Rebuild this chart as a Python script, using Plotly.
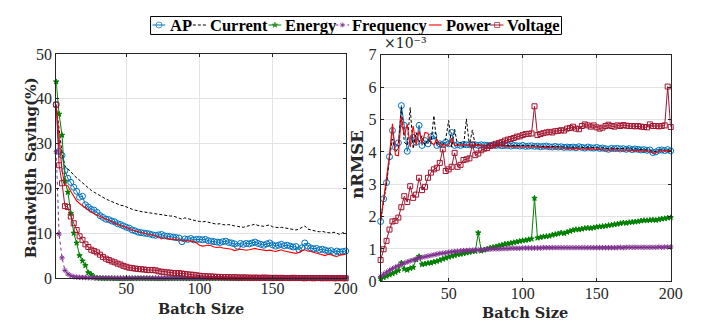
import plotly.graph_objects as go

# ---------------- data ----------------
BATCH_LEFT = list(range(2, 201, 2))    # 100 batch sizes (left panel)
BATCH_RIGHT = list(range(4, 201, 2))   # 99 batch sizes (right panel)
SERIES = ["AP", "Current", "Energy", "Frequency", "Power", "Voltage"]

# Bandwidth saving (%)
SAVE_AP = [
    38.7, 28.3, 27.4, 24.0, 22.3, 21.4, 20.3, 19.4, 18.1, 18.3,
    16.4, 15.9, 15.4, 15.2, 14.7, 14.0, 13.6, 13.2, 13.1, 12.8,
    12.6, 12.2, 12.0, 11.7, 11.4, 11.2, 10.8, 10.6, 10.3, 10.2,
    10.1, 10.0, 9.9, 9.7, 9.6, 9.7, 9.8, 9.5, 9.4, 9.3,
    9.2, 9.1, 9.0, 8.2, 8.8, 8.7, 8.9, 8.6, 8.7, 8.7,
    8.6, 8.7, 8.4, 8.3, 8.2, 8.1, 8.0, 8.2, 8.3, 8.0,
    7.9, 7.7, 7.2, 7.8, 7.6, 7.8, 7.7, 7.9, 8.1, 7.8,
    7.6, 7.4, 7.7, 7.9, 7.5, 7.2, 7.4, 7.6, 7.3, 7.4,
    7.2, 7.0, 7.1, 6.4, 6.8, 7.9, 7.2, 6.8, 6.6, 6.7,
    6.4, 6.5, 6.3, 6.1, 6.2, 5.8, 6.1, 5.9, 6.0, 6.1,
]
SAVE_CURRENT = [
    38.5, 33.0, 28.0, 25.0, 24.5, 23.8, 23.0, 22.4, 21.8, 21.2,
    20.6, 20.0, 19.6, 19.2, 18.8, 18.5, 18.1, 17.7, 17.4, 17.1,
    16.9, 16.6, 16.3, 16.2, 15.9, 15.6, 15.4, 15.2, 15.0, 14.9,
    14.8, 14.7, 14.6, 14.5, 14.3, 14.2, 14.1, 14.0, 14.0, 13.9,
    13.9, 13.7, 13.5, 13.2, 13.5, 13.3, 13.2, 13.0, 12.8, 12.7,
    12.6, 12.7, 12.5, 12.3, 12.2, 12.1, 12.2, 12.0, 11.9, 12.0,
    11.8, 11.7, 11.6, 11.5, 11.4, 11.6, 11.7, 11.9, 12.1, 11.8,
    11.7, 11.6, 11.8, 11.9, 11.5, 11.4, 11.3, 11.4, 11.3, 11.2,
    11.1, 11.0, 10.8, 11.0, 11.3, 11.7, 11.0, 10.8, 10.7, 10.5,
    10.4, 10.5, 10.3, 10.2, 10.1, 10.3, 10.0, 9.8, 10.2, 10.0,
]
SAVE_ENERGY = [
    43.8, 36.6, 31.9, 21.7, 19.2, 14.5, 10.1, 7.9, 5.1, 3.9,
    2.9, 1.3, 0.9, 0.3, 0.1, 0.05, 0.0, 0.0, 0.0, 0.0,
    0.0, 0.0, 0.0, 0.0, 0.0, 0.0, 0.0, 0.0, 0.0, 0.0,
    0.0, 0.0, 0.0, 0.0, 0.0, 0.0, 0.0, 0.0, 0.0, 0.0,
    0.0, 0.0, 0.0, 0.0, 0.0, 0.0, 0.0, 0.0, 0.0, 0.0,
    0.0, 0.0, 0.0, 0.0, 0.0, 0.0, 0.0, 0.0, 0.0, 0.0,
    0.0, 0.0, 0.0, 0.0, 0.0, 0.0, 0.0, 0.0, 0.0, 0.0,
    0.0, 0.0, 0.0, 0.0, 0.0, 0.0, 0.0, 0.0, 0.0, 0.0,
    0.0, 0.0, 0.0, 0.0, 0.0, 0.0, 0.0, 0.0, 0.0, 0.0,
    0.0, 0.0, 0.0, 0.0, 0.0, 0.0, 0.0, 0.0, 0.0, 0.0,
]
SAVE_FREQUENCY = [
    28.2, 9.9, 4.6, 1.8, 1.0, 0.6, 0.4, 0.3, 0.25, 0.2,
    0.2, 0.15, 0.15, 0.1, 0.1, 0.1, 0.1, 0.1, 0.1, 0.1,
    0.05, 0.05, 0.05, 0.05, 0.05, 0.05, 0.05, 0.05, 0.05, 0.05,
    0.05, 0.05, 0.05, 0.05, 0.05, 0.05, 0.05, 0.05, 0.05, 0.05,
    0.05, 0.05, 0.05, 0.05, 0.05, 0.05, 0.05, 0.05, 0.05, 0.05,
    0.05, 0.05, 0.05, 0.05, 0.05, 0.05, 0.05, 0.05, 0.05, 0.05,
    0.05, 0.05, 0.05, 0.05, 0.05, 0.05, 0.05, 0.05, 0.05, 0.05,
    0.05, 0.05, 0.05, 0.05, 0.05, 0.05, 0.05, 0.05, 0.05, 0.05,
    0.05, 0.05, 0.05, 0.05, 0.05, 0.05, 0.05, 0.05, 0.05, 0.05,
    0.05, 0.05, 0.05, 0.05, 0.05, 0.05, 0.05, 0.05, 0.05, 0.05,
]
SAVE_POWER = [
    38.7, 30.5, 24.0, 20.8, 20.6, 19.4, 18.2, 17.3, 16.7, 16.2,
    15.7, 15.1, 14.8, 14.4, 14.1, 13.8, 13.5, 13.2, 12.9, 12.5,
    12.2, 12.0, 11.8, 11.6, 11.3, 11.1, 10.8, 10.6, 10.4, 10.3,
    10.1, 9.9, 9.8, 9.6, 9.5, 9.3, 8.8, 9.1, 8.9, 8.7,
    8.7, 8.6, 8.5, 8.5, 8.5, 8.4, 8.3, 8.2, 7.9, 7.4,
    7.2, 7.3, 7.4, 7.3, 7.0, 6.9, 7.0, 6.8, 6.7, 6.6,
    6.5, 6.2, 6.4, 6.5, 6.4, 6.3, 6.4, 6.6, 6.7, 6.5,
    6.4, 6.3, 6.2, 6.3, 6.1, 6.0, 6.2, 6.4, 6.1, 6.0,
    5.9, 5.8, 5.6, 5.8, 6.2, 6.4, 6.1, 6.0, 5.8, 5.6,
    5.5, 5.3, 5.1, 5.4, 5.3, 5.0, 4.9, 5.2, 5.3, 5.4,
]
SAVE_VOLTAGE = [
    38.7, 25.2, 21.2, 16.1, 15.9, 13.8, 12.3, 10.8, 9.4, 8.6,
    7.6, 7.0, 6.4, 6.1, 5.8, 5.3, 4.8, 4.4, 4.1, 3.8,
    3.6, 3.3, 3.1, 2.8, 2.6, 2.4, 2.3, 2.2, 2.1, 2.05,
    2.0, 1.9, 1.85, 1.9, 1.8, 1.6, 1.5, 1.4, 1.35, 1.3,
    1.2, 1.15, 1.2, 1.1, 1.0, 0.9, 0.85, 0.8, 0.7, 0.6,
    0.55, 0.5, 0.45, 0.45, 0.4, 0.35, 0.35, 0.3, 0.3, 0.3,
    0.25, 0.3, 0.25, 0.2, 0.25, 0.2, 0.2, 0.15, 0.2, 0.15,
    0.15, 0.2, 0.15, 0.15, 0.1, 0.15, 0.1, 0.15, 0.1, 0.1,
    0.1, 0.15, 0.1, 0.1, 0.1, 0.05, 0.1, 0.1, 0.05, 0.1,
    0.1, 0.05, 0.1, 0.05, 0.1, 0.05, 0.05, 0.1, 0.05, 0.05,
]

# nRMSE, in units of 1e-3
NRMSE_AP = [
    1.85, 2.55, 3.05, 3.85, 4.66, 4.14, 4.28, 5.43, 4.82, 4.02,
    4.35, 4.45, 4.3, 4.82, 4.2, 4.35, 4.25, 4.47, 4.5, 4.2,
    4.25, 4.22, 4.3, 4.25, 4.6, 4.2, 4.22, 4.2, 4.23, 4.22,
    4.22, 4.21, 4.22, 4.2, 4.22, 4.21, 4.2, 4.2, 4.22, 4.2,
    4.21, 4.19, 4.2, 4.2, 4.18, 4.2, 4.19, 4.18, 4.2, 4.17,
    4.18, 4.19, 4.17, 4.18, 4.16, 4.17, 4.18, 4.16, 4.15, 4.17,
    4.15, 4.16, 4.14, 4.15, 4.14, 4.15, 4.13, 4.16, 4.14, 4.12,
    4.15, 4.13, 4.12, 4.14, 4.11, 4.12, 4.1, 4.08, 4.11, 4.1,
    4.11, 4.09, 4.1, 4.08, 4.1, 4.07, 4.09, 4.08, 4.06, 4.07,
    4.05, 4.06, 3.98, 4.0, 4.05, 4.06, 4.04, 4.07, 4.03,
]
NRMSE_CURRENT = [
    1.9, 2.5, 3.0, 3.8, 4.4, 4.0, 4.1, 5.37, 4.3, 4.2,
    5.37, 4.1, 4.6, 4.3, 4.5, 4.2, 4.4, 4.25, 5.12, 4.25,
    4.3, 4.2, 4.4, 4.97, 4.15, 4.7, 4.2, 4.3, 4.15, 5.02,
    4.2, 4.68, 4.2, 4.22, 4.21, 4.2, 4.22, 4.21, 4.2, 4.22,
    4.21, 4.2, 4.21, 4.2, 4.19, 4.2, 4.2, 4.18, 4.19, 4.18,
    4.19, 4.18, 4.18, 4.19, 4.17, 4.17, 4.18, 4.17, 4.16, 4.17,
    4.16, 4.16, 4.15, 4.16, 4.15, 4.15, 4.14, 4.16, 4.15, 4.13,
    4.15, 4.14, 4.13, 4.14, 4.12, 4.13, 4.11, 4.1, 4.12, 4.11,
    4.12, 4.1, 4.11, 4.1, 4.15, 4.08, 4.1, 4.09, 4.07, 4.08,
    4.06, 4.07, 4.0, 4.02, 4.06, 4.07, 4.05, 4.08, 4.04,
]
NRMSE_ENERGY = [
    0.08, 0.12, 0.16, 0.2, 0.24, 0.28, 0.33, 0.57, 0.38, 0.35,
    0.4, 0.43, 0.67, 0.77, 0.52, 0.54, 0.56, 0.57, 0.6, 0.62,
    0.65, 0.69, 0.72, 0.75, 0.78, 0.8, 0.83, 0.84, 0.86, 0.88,
    0.9, 0.92, 0.93, 1.5, 0.94, 0.97, 1.0, 1.03, 1.05, 1.07,
    1.1, 1.12, 1.15, 1.16, 1.18, 1.2, 1.22, 1.24, 1.26, 1.27,
    1.29, 1.31, 2.57, 1.34, 1.36, 1.38, 1.39, 1.4, 1.43, 1.45,
    1.47, 1.5, 1.48, 1.52, 1.55, 1.58, 1.6, 1.6, 1.62, 1.64,
    1.65, 1.64, 1.66, 1.68, 1.69, 1.7, 1.71, 1.73, 1.74, 1.76,
    1.77, 1.79, 1.81, 1.8, 1.82, 1.83, 1.84, 1.85, 1.87, 1.88,
    1.88, 1.89, 1.9, 1.89, 1.91, 1.93, 1.94, 1.96, 1.97,
]
NRMSE_FREQUENCY = [
    0.15, 0.22, 0.28, 0.34, 0.39, 0.44, 0.48, 0.52, 0.56, 0.6,
    0.63, 0.66, 0.69, 0.72, 0.74, 0.76, 0.78, 0.8, 0.82, 0.84,
    0.86, 0.87, 0.88, 0.9, 0.91, 0.92, 0.93, 0.94, 0.95, 0.95,
    0.96, 0.96, 0.97, 0.97, 0.98, 0.98, 0.99, 0.99, 1.0, 1.0,
    1.0, 1.01, 1.01, 1.01, 1.02, 1.02, 1.02, 1.02, 1.03, 1.03,
    1.03, 1.03, 1.03, 1.03, 1.03, 1.04, 1.04, 1.04, 1.04, 1.04,
    1.04, 1.04, 1.04, 1.04, 1.04, 1.04, 1.04, 1.04, 1.04, 1.04,
    1.04, 1.04, 1.04, 1.04, 1.04, 1.04, 1.04, 1.04, 1.04, 1.04,
    1.04, 1.05, 1.04, 1.05, 1.05, 1.05, 1.05, 1.05, 1.05, 1.05,
    1.05, 1.05, 1.05, 1.05, 1.06, 1.05, 1.06, 1.06, 1.06,
]
NRMSE_POWER = [
    1.85, 2.6, 3.2, 3.9, 4.87, 3.9, 3.88, 5.1, 4.5, 4.85,
    4.15, 4.8, 4.2, 4.65, 4.25, 4.6, 4.58, 4.3, 4.22, 4.4,
    4.2, 4.22, 4.2, 4.2, 4.42, 4.2, 4.2, 4.22, 4.21, 4.2,
    4.2, 4.2, 4.21, 4.2, 4.2, 4.2, 4.19, 4.2, 4.2, 4.18,
    4.19, 4.18, 4.18, 4.17, 4.18, 4.17, 4.16, 4.17, 4.16, 4.15,
    4.16, 4.15, 4.15, 4.14, 4.14, 4.13, 4.14, 4.13, 4.12, 4.13,
    4.12, 4.12, 4.11, 4.12, 4.11, 4.1, 4.11, 4.1, 4.1, 4.09,
    4.1, 4.09, 4.08, 4.09, 4.08, 4.07, 4.06, 4.05, 4.07, 4.06,
    4.06, 4.05, 4.06, 4.05, 4.04, 4.05, 4.04, 4.04, 4.03, 4.04,
    4.03, 4.02, 3.95, 3.97, 4.02, 4.03, 4.02, 4.04, 4.03,
]
NRMSE_VOLTAGE = [
    0.66, 0.99, 1.25, 1.6, 1.85, 1.87, 1.97, 2.29, 2.63, 2.45,
    2.94, 2.58, 2.68, 3.2, 2.82, 2.92, 3.2, 3.36, 3.46, 3.51,
    3.66, 4.08, 3.41, 3.46, 3.54, 3.97, 3.54, 3.6, 3.75, 3.77,
    3.8, 4.23, 3.9, 3.95, 4.05, 4.1, 4.12, 4.18, 4.2, 4.25,
    4.28, 4.3, 4.35, 4.38, 4.4, 4.43, 4.47, 4.48, 4.52, 4.55,
    4.56, 4.57, 5.41, 4.52, 4.55, 4.58, 4.6, 4.62, 4.6, 4.64,
    4.65, 4.67, 4.66, 4.72, 4.74, 4.78, 4.72, 4.7, 4.8, 4.85,
    4.82, 4.78, 4.82, 4.76, 4.72, 4.75, 4.8, 4.84, 4.8, 4.78,
    4.82, 4.8, 4.83, 4.81, 4.8, 4.8, 4.79, 4.8, 4.78, 4.77,
    4.76, 4.85, 4.8, 4.8, 4.79, 4.8, 4.82, 6.02, 4.77,
]

X_TICKS = [50, 100, 150, 200]
LEFT_Y_TICKS = [0, 10, 20, 30, 40, 50]
RIGHT_Y_TICKS = [0, 1, 2, 3, 4, 5, 6, 7]

LEFT_DATA = [SAVE_AP, SAVE_CURRENT, SAVE_ENERGY, SAVE_FREQUENCY, SAVE_POWER, SAVE_VOLTAGE]
RIGHT_DATA = [NRMSE_AP, NRMSE_CURRENT, NRMSE_ENERGY, NRMSE_FREQUENCY, NRMSE_POWER, NRMSE_VOLTAGE]

# ---------------- styles ----------------
STYLE = {
    "AP":        dict(color="#0072BD", dash="solid", symbol="circle-open", size=6, width=1.0),
    "Current":   dict(color="#000000", dash="3px,2px", symbol=None, size=0, width=1.0),
    "Energy":    dict(color="#008000", dash="solid", symbol="star", size=4, width=1.0),
    "Frequency": dict(color="#7E2F8E", dash="dot", symbol="asterisk-open", size=4.5, width=1.0),
    "Power":     dict(color="#FF0000", dash="solid", symbol=None, size=0, width=1.1),
    "Voltage":   dict(color="#A2142F", dash="solid", symbol="square-open", size=5, width=1.0),
}

W, H = 712, 324
SERIF = "Liberation Serif"
TITLE_SERIF = "DejaVu Serif"
AXCOL = "#262626"
GRID = "#e3e3e3"

fig = go.Figure()


def add_series(xs, ys, name, xa, ya):
    st = STYLE[name]
    mode = "lines+markers" if st["symbol"] else "lines"
    kw = dict(x=xs, y=ys, name=name, mode=mode, xaxis=xa, yaxis=ya,
              showlegend=False, cliponaxis=False,
              line=dict(color=st["color"], dash=st["dash"], width=st["width"]))
    if st["symbol"]:
        kw["marker"] = dict(symbol=st["symbol"], size=st["size"], color=st["color"],
                            line=dict(color=st["color"], width=1))
    fig.add_trace(go.Scatter(**kw))


for name, ys in zip(SERIES, LEFT_DATA):
    add_series(BATCH_LEFT, ys, name, "x", "y")
for name, ys in zip(SERIES, RIGHT_DATA):
    add_series(BATCH_RIGHT, ys, name, "x2", "y2")

# ---------------- custom legend (pixel overlay axis) ----------------
LEG_LINE_X0 = [147, 188, 265, 333, 428, 491]
LEG_LINE_X1 = [160, 202, 278, 347, 441, 504]
LEG_TEXT_X = [162.5, 203.5, 280, 348, 443, 506]
LEG_Y = 9.5
for i, name in enumerate(SERIES):
    st = STYLE[name]
    xs = [LEG_LINE_X0[i], (LEG_LINE_X0[i] + LEG_LINE_X1[i]) / 2, LEG_LINE_X1[i]]
    kw = dict(x=xs, y=[LEG_Y] * 3, mode="lines+markers" if st["symbol"] else "lines",
              xaxis="x3", yaxis="y3", showlegend=False, hoverinfo="skip",
              line=dict(color=st["color"], dash=st["dash"], width=st["width"]))
    if st["symbol"]:
        kw["marker"] = dict(symbol=st["symbol"], size=[0, st["size"], 0], color=st["color"],
                            line=dict(color=st["color"], width=1))
    fig.add_trace(go.Scatter(**kw))
    fig.add_annotation(x=LEG_TEXT_X[i], y=LEG_Y, xref="x3", yref="y3", text="<b>%s</b>" % name,
                       showarrow=False, xanchor="left", yanchor="middle",
                       font=dict(family=SERIF, size=16.5, color="#000000"))

fig.add_shape(type="rect", xref="x3", yref="y3", x0=145, x1=563, y0=0.5, y1=19.5,
              line=dict(color="#000000", width=1), fillcolor="white", layer="below")

# ---------------- axes ----------------
def x_axis(standoff):
    return dict(showgrid=True, gridcolor=GRID, gridwidth=1, zeroline=False,
                showline=True, linecolor=AXCOL, linewidth=1, mirror="ticks",
                ticks="inside", ticklen=3, tickcolor=AXCOL, ticklabelstandoff=standoff,
                tickfont=dict(family=SERIF, size=16, color=AXCOL), tickvals=X_TICKS)


common_y = dict(showgrid=True, gridcolor=GRID, gridwidth=1, zeroline=False,
                showline=True, linecolor=AXCOL, linewidth=1, mirror="ticks",
                ticks="inside", ticklen=3, tickcolor=AXCOL,
                tickfont=dict(family=SERIF, size=16, color=AXCOL))

fig.update_layout(
    width=W, height=H,
    margin=dict(l=0, r=0, t=0, b=0, pad=0),
    paper_bgcolor="white", plot_bgcolor="rgba(0,0,0,0)",
    showlegend=False,
    xaxis=dict(domain=[49 / W, 343.5 / W], range=[2, 200], anchor="y", **x_axis(-5)),
    yaxis=dict(domain=[(H - 277) / H, (H - 40) / H], range=[0, 50], anchor="x",
               tickvals=LEFT_Y_TICKS, **common_y),
    xaxis2=dict(domain=[379 / W, 674 / W], range=[4, 200], anchor="y2", **x_axis(-3)),
    yaxis2=dict(domain=[(H - 280) / H, (H - 41) / H], range=[0, 7], anchor="x2",
                tickvals=RIGHT_Y_TICKS, **common_y),
    xaxis3=dict(domain=[0, 1], range=[0, W], anchor="y3", visible=False, fixedrange=True),
    yaxis3=dict(domain=[0, 1], range=[H, 0], anchor="x3", visible=False, fixedrange=True),
)

fig.add_annotation(x=196 / W, y=(H - 309) / H, xref="paper", yref="paper",
                   text="<b>Batch Size</b>", showarrow=False, xanchor="center", yanchor="middle",
                   font=dict(family=TITLE_SERIF, size=14.5, color=AXCOL))
fig.add_annotation(x=526 / W, y=(H - 313) / H, xref="paper", yref="paper",
                   text="<b>Batch Size</b>", showarrow=False, xanchor="center", yanchor="middle",
                   font=dict(family=TITLE_SERIF, size=14.5, color=AXCOL))
fig.add_annotation(x=23 / W, y=(H - 160) / H, xref="paper", yref="paper",
                   text="<b>Bandwidth Saving(%)</b>", showarrow=False, textangle=-90,
                   xanchor="center", yanchor="middle",
                   font=dict(family=TITLE_SERIF, size=15, color=AXCOL))
fig.add_annotation(x=356 / W, y=(H - 157) / H, xref="paper", yref="paper",
                   text="<b>nRMSE</b>", showarrow=False, textangle=-90,
                   xanchor="center", yanchor="middle",
                   font=dict(family=TITLE_SERIF, size=16.5, color=AXCOL))
fig.add_annotation(x=380 / W, y=(H - 29) / H, xref="paper", yref="paper",
                   text="×10⁻³", showarrow=False, xanchor="left", yanchor="middle",
                   font=dict(family="DejaVu Serif", size=14, color=AXCOL))

fig.write_html("out.html")
